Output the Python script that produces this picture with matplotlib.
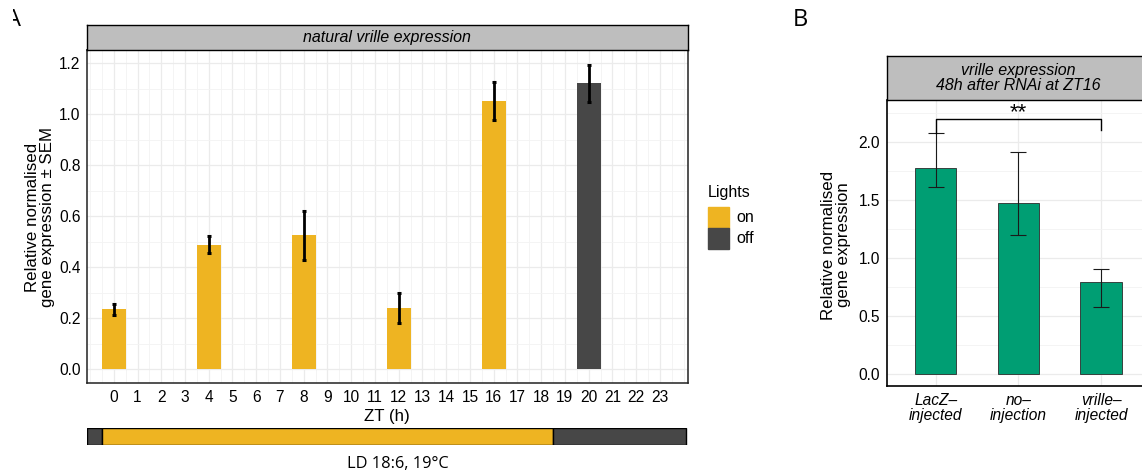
import matplotlib
matplotlib.use("Agg")
import matplotlib.pyplot as plt
from matplotlib.patches import Rectangle
from matplotlib.ticker import MultipleLocator
from matplotlib.transforms import Bbox

# panel A: natural vrille expression across the day (LD 18:6)
ZT_HOURS = [0, 4, 8, 12, 16, 20]
VRI_MEAN = [0.235, 0.489, 0.528, 0.242, 1.052, 1.122]
VRI_LOW = [0.212, 0.455, 0.430, 0.182, 0.976, 1.048]
VRI_HIGH = [0.256, 0.523, 0.622, 0.299, 1.125, 1.193]
LIGHTS = ["on", "on", "on", "on", "on", "off"]
LIGHTS_ON = -0.5
LIGHTS_OFF = 18.5
ZT_TICKS = list(range(24))

# panel B: vrille after RNAi
GROUPS = ["LacZ–\ninjected", "no–\ninjection", "vrille–\ninjected"]
RNAI_MEAN = [1.771, 1.475, 0.791]
RNAI_LOW = [1.613, 1.197, 0.581]
RNAI_HIGH = [2.077, 1.914, 0.905]
SIG_PAIR = (0, 2)
SIG_Y = 2.195
SIG_ENDS = (2.077, 2.10)
SIG_LABEL = "**"

LIGHT_COLORS = {"on": "#EEB422", "off": "#474747"}
GREEN = "#009E73"
STRIP = "#BEBEBE"
FONT = ["Liberation Sans", "DejaVu Sans"]
TICK_FS = 11.2
TITLE_FS = 12.2
STRIP_FS = 11.5

plt.rcParams["font.family"] = FONT
plt.rcParams["font.size"] = TICK_FS

W, H = 1142, 472
fig = plt.figure(figsize=(W / 100, H / 100), dpi=100)


def box(x0, y0, x1, y1):
    """pixel box (top-left origin) -> add_axes rect"""
    return [x0 / W, 1 - y1 / H, (x1 - x0) / W, (y1 - y0) / H]


def fx(px):
    return px / W


def fy(py):
    return 1 - py / H


def style_grid(ax):
    ax.set_axisbelow(True)
    ax.grid(which="major", color="#EBEBEB", lw=0.9)
    ax.grid(which="minor", color="#F3F3F3", lw=0.6)
    ax.tick_params(which="both", length=0, labelsize=TICK_FS)


def strip(rect, text):
    s = fig.add_axes(rect)
    s.set_facecolor(STRIP)
    s.set_xticks([])
    s.set_yticks([])
    for sp in s.spines.values():
        sp.set_color("black")
        sp.set_linewidth(1.0)
    s.text(0.5, 0.5, text, transform=s.transAxes, ha="center", va="center",
           style="italic", fontsize=STRIP_FS, linespacing=1.0)
    return s


# ---- panel A ----
axA = fig.add_axes(box(86.7, 50, 687.7, 383.3))
xlimA = (-1.14, 24.17)
colors = [LIGHT_COLORS[l] for l in LIGHTS]
axA.bar(ZT_HOURS, VRI_MEAN, width=1.0, color=colors, zorder=2)
yerr = [[m - lo for m, lo in zip(VRI_MEAN, VRI_LOW)],
        [hi - m for m, hi in zip(VRI_MEAN, VRI_HIGH)]]
axA.errorbar(ZT_HOURS, VRI_MEAN, yerr=yerr, fmt="none", ecolor="black",
             elinewidth=2.0, capsize=1.7, capthick=2.2, zorder=3)
axA.set_xlim(*xlimA)
axA.set_ylim(-0.055, 1.252)
axA.set_xticks(ZT_TICKS)
axA.xaxis.set_minor_locator(MultipleLocator(0.5))
axA.set_yticks([0, 0.2, 0.4, 0.6, 0.8, 1.0, 1.2])
axA.yaxis.set_minor_locator(MultipleLocator(0.1))
axA.set_yticklabels([f"{v:.1f}" for v in axA.get_yticks()])
style_grid(axA)
axA.tick_params(axis="x", pad=4.5)
axA.tick_params(axis="y", pad=4.5)
for sp in axA.spines.values():
    sp.set_color("#222222")
    sp.set_linewidth(1.1)
axA.set_xlabel("ZT (h)", labelpad=3, fontsize=TITLE_FS)
fig.text(fx(40), fy(217), "Relative normalised\ngene expression ± SEM",
         rotation=90, ha="center", va="center", fontsize=TITLE_FS,
         multialignment="center", linespacing=0.92)
strip(box(86.7, 25, 687.7, 50), "natural vrille expression")

# light/dark bar under panel A
axLD = fig.add_axes(box(86.7, 427.7, 687.7, 445.3))
axLD.set_xlim(*xlimA)
axLD.set_ylim(0, 1)
ld_end = 24.08
axLD.barh(0.5, LIGHTS_ON - xlimA[0], left=xlimA[0], height=1, color=LIGHT_COLORS["off"],
          edgecolor="black", lw=1)
axLD.barh(0.5, LIGHTS_OFF - LIGHTS_ON, left=LIGHTS_ON, height=1, color=LIGHT_COLORS["on"],
          edgecolor="black", lw=1)
axLD.barh(0.5, ld_end - LIGHTS_OFF, left=LIGHTS_OFF, height=1, color=LIGHT_COLORS["off"],
          edgecolor="black", lw=1)
axLD.axis("off")
fig.text(fx(398), fy(464), "LD 18:6, 19°C", ha="center", va="center",
         fontsize=11.8, family=["Open Sans", "DejaVu Sans"])

# legend for panel A (keys touch each other, as in ggplot)
fig.text(fx(708), fy(197), "Lights", ha="left", va="baseline", fontsize=11.5)
key_top = 207.3
key_h = 21
for i, name in enumerate(["on", "off"]):
    y0 = key_top + i * key_h
    fig.add_artist(Rectangle((fx(708), fy(y0 + key_h)), 21 / W, key_h / H,
                             transform=fig.transFigure, color=LIGHT_COLORS[name]))
    fig.text(fx(736.5), fy(y0 + key_h / 2), name, ha="left", va="center", fontsize=11.5)

# ---- panel B ----
xB = [1, 2, 3]
axB = fig.add_axes(box(886.7, 100, 1150.6, 385.7))
axB.bar(xB, RNAI_MEAN, width=0.5, color=GREEN, edgecolor="#2b2b2b", lw=0.6, zorder=2)
yerrB = [[m - lo for m, lo in zip(RNAI_MEAN, RNAI_LOW)],
         [hi - m for m, hi in zip(RNAI_MEAN, RNAI_HIGH)]]
axB.errorbar(xB, RNAI_MEAN, yerr=yerrB, fmt="none", ecolor="#1a1a1a",
             elinewidth=0.8, capsize=6, capthick=0.8, zorder=3)
i0, i1 = SIG_PAIR
axB.plot([xB[i0], xB[i0], xB[i1], xB[i1]], [SIG_ENDS[0], SIG_Y, SIG_Y, SIG_ENDS[1]],
         color="black", lw=1.0, zorder=3)
axB.text((xB[i0] + xB[i1]) / 2, SIG_Y + 0.012, SIG_LABEL, ha="center", va="baseline",
         fontsize=16)
axB.set_xlim(0.407, 3.6)
axB.set_ylim(-0.1, 2.36)
axB.set_xticks(xB)
axB.set_xticklabels(GROUPS, style="italic", linespacing=1.0)
axB.set_yticks([0, 0.5, 1.0, 1.5, 2.0])
axB.set_yticklabels([f"{v:.1f}" for v in axB.get_yticks()])
axB.yaxis.set_minor_locator(MultipleLocator(0.25))
style_grid(axB)
axB.tick_params(axis="x", pad=5)
axB.tick_params(axis="y", pad=5)
for side in ("top", "right"):
    axB.spines[side].set_visible(False)
for side in ("left", "bottom"):
    axB.spines[side].set_color("black")
    axB.spines[side].set_linewidth(1.2)
fig.text(fx(836), fy(245), "Relative normalised\ngene expression",
         rotation=90, ha="center", va="center", fontsize=TITLE_FS,
         multialignment="center", linespacing=0.92)
strip(box(886.7, 55.5, 1150.6, 100), "vrille expression\n48h after RNAi at ZT16")

# panel letters (A is cut off at the left edge in the original)
labA = fig.text(fx(5.5), fy(20), "A", ha="left", va="center", fontsize=17,
                family=["Open Sans", "DejaVu Sans"])
labA.set_clip_box(Bbox.from_extents(13, 0, W, H))
labA.set_clip_on(True)
fig.text(fx(800), fy(20), "B", ha="center", va="center", fontsize=17,
         family=["Open Sans", "DejaVu Sans"])

fig.savefig("out.png", dpi=100)
